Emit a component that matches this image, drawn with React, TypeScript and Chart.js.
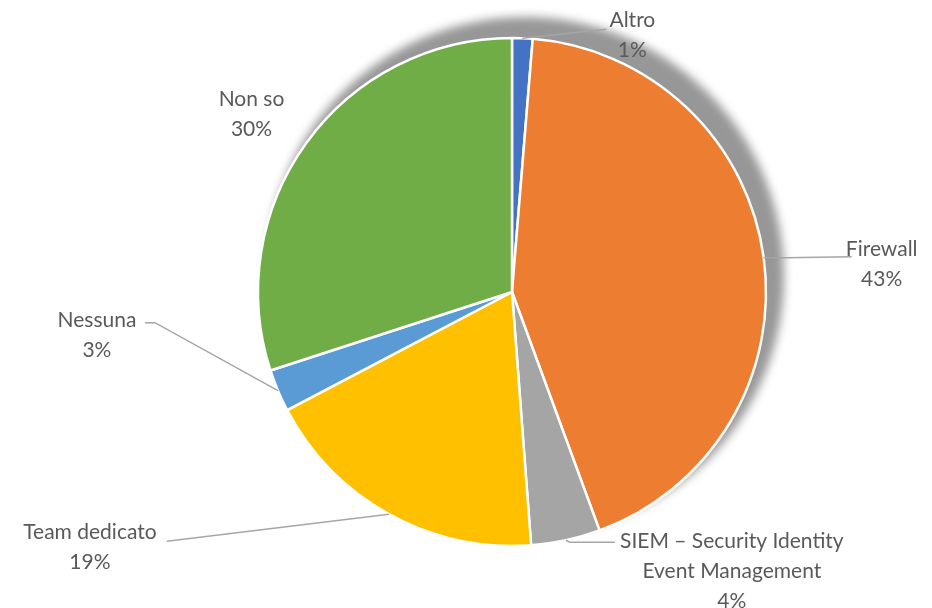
import React, { useEffect, useRef } from "react";
import { Chart, registerables } from "chart.js";

Chart.register(...registerables);

const categories = ["Altro", "Firewall", "SIEM – Security Identity Event Management", "Team dedicato", "Nessuna", "Non so"];
const values = [1.3, 43.1, 4.4, 18.5, 2.7, 30.0];
const percentLabels = ["1%", "43%", "4%", "19%", "3%", "30%"];
const labelLines = [
  ["Altro"],
  ["Firewall"],
  ["SIEM – Security Identity", "Event Management"],
  ["Team dedicato"],
  ["Nessuna"],
  ["Non so"],
];
const colors = ["#4472C4", "#ED7D31", "#A5A5A5", "#FFC000", "#5B9BD5", "#70AD47"];

// label layout: text block centre offset from slice anchor, leader polyline points offset from anchor
const labelLayout = [
  { text: [110, -3], leader: [[84, -9]] },
  { text: [118, 6], leader: [[22, 0], [88, -1]] },
  { text: [166, 31], leader: [[4, 2], [49, 2]] },
  { text: [-299, 33], leader: [[-222, 27]] },
  { text: [-181, -55], leader: [[-123, -68], [-133, -68]] },
  { text: [-55, -28], leader: null },
];

const FONT = "21px Lato, 'Open Sans', sans-serif";
const LINE_H = 30;

const shadowPlugin = {
  id: "pieShadow",
  beforeDatasetsDraw(chart: any) {
    const arc = chart.getDatasetMeta(0).data[0];
    if (!arc) return;
    const { x, y, outerRadius } = arc.getProps(["x", "y", "outerRadius"], true);
    const ctx = chart.ctx;
    ctx.save();
    ctx.filter = "blur(5px)";
    ctx.fillStyle = "rgba(140,140,140,0.9)";
    ctx.beginPath();
    ctx.arc(x + 13, y - 16, outerRadius + 5, 0, Math.PI * 2);
    ctx.fill();
    ctx.restore();
  },
};

const labelPlugin = {
  id: "outLabels",
  afterDatasetsDraw(chart: any) {
    const ctx = chart.ctx;
    const meta = chart.getDatasetMeta(0);
    ctx.save();
    meta.data.forEach((el: any, i: number) => {
      const { x, y, startAngle, endAngle, outerRadius } = el.getProps(
        ["x", "y", "startAngle", "endAngle", "outerRadius"],
        true
      );
      const mid = (startAngle + endAngle) / 2;
      const ax = x + Math.cos(mid) * outerRadius;
      const ay = y + Math.sin(mid) * outerRadius;
      const lay = labelLayout[i];
      if (lay.leader) {
        ctx.strokeStyle = "#A6A6A6";
        ctx.lineWidth = 1.5;
        ctx.beginPath();
        ctx.moveTo(ax, ay);
        lay.leader.forEach((p) => ctx.lineTo(ax + p[0], ay + p[1]));
        ctx.stroke();
      }
      const lines = [...labelLines[i], percentLabels[i]];
      const cx = ax + lay.text[0];
      const cy = ay + lay.text[1];
      ctx.fillStyle = "#595959";
      ctx.font = FONT;
      ctx.textAlign = "center";
      ctx.textBaseline = "middle";
      const top = cy - ((lines.length - 1) * LINE_H) / 2;
      lines.forEach((t, k) => ctx.fillText(t, cx, top + k * LINE_H));
    });
    ctx.restore();
  },
};

export default function App() {
  const ref = useRef<HTMLCanvasElement>(null);
  useEffect(() => {
    if (!ref.current) return;
    const chart = new Chart(ref.current, {
      type: "pie",
      data: {
        labels: categories,
        datasets: [
          {
            data: values,
            backgroundColor: colors,
            borderColor: "#ffffff",
            borderWidth: 2.5,
          },
        ],
      },
      options: {
        animation: false,
        responsive: false,
        radius: 254,
        layout: { padding: { top: 38, bottom: 62, left: 258, right: 166 } },
        plugins: { legend: { display: false }, tooltip: { enabled: false } },
      },
      plugins: [shadowPlugin, labelPlugin],
    } as any);
    return () => chart.destroy();
  }, []);
  return (
    <div style={{ position: "fixed", left: 0, top: 0, width: 932, height: 608, background: "#fff" }}>
      <canvas ref={ref} width={932} height={608} />
    </div>
  );
}
